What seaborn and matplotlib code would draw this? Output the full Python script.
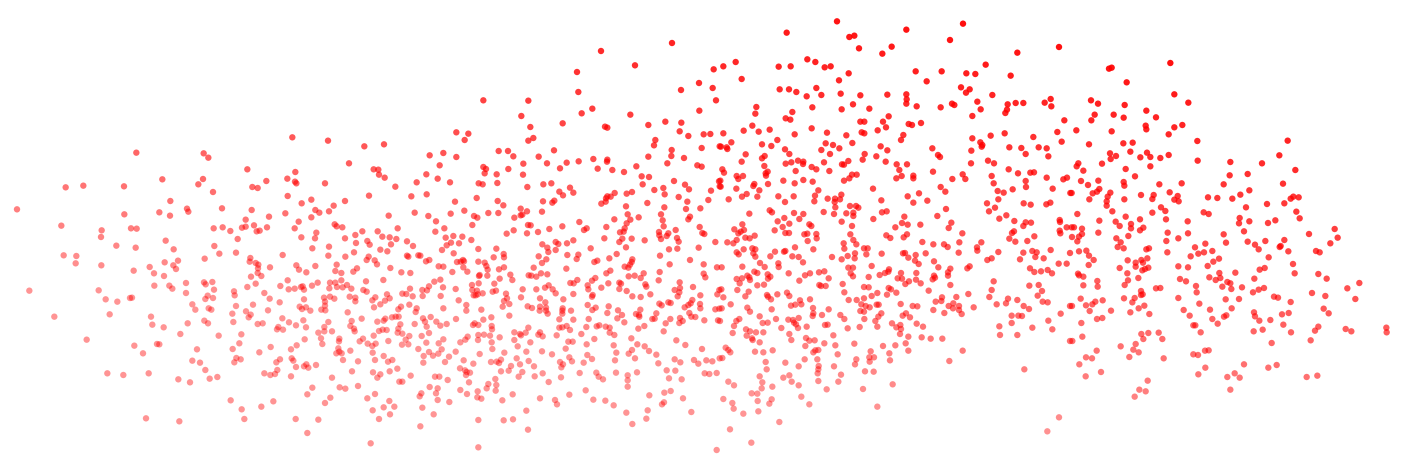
import numpy as np
import pandas as pd
import seaborn as sns
from matplotlib import pyplot as plt

# points, one list per patch, in units of 1/3 px from the patch corner
left_pts = [(877,52),(984,62),(409,98),(611,100),(625,113),(1047,130),(742,148),(886,156),(862,176),(487,178),(609,177),(799,183),(885,185),(889,190),(975,190),(197,202),(250,197),(372,199),(595,193),(757,201),(773,204),(639,216),(863,228),(934,239),(1035,243),(905,250),(511,243),(1001,257),(51,268),(561,266),(565,275),(666,265),(755,270),(946,270),(958,278),(987,274),(478,277),(373,283),(510,287),(856,280),(807,290),(934,292),(737,299),(896,305),(184,317),(305,331),(393,325),(410,326),(641,325),(668,322),(691,333),(726,323),(737,320),(762,316),(770,334),(779,332),(801,322),(884,325),(1004,313),(1010,319),(1027,322),(949,338),(1066,345),(303,351),(497,362),(713,357),(904,352),(945,355),(1035,355),(1068,369),(349,377),(407,383),(521,388),(643,378),(937,385),(987,380),(191,406),(229,408),(658,401),(708,398),(848,405),(985,407),(1062,397),(1036,410),(614,416),(751,414),(749,425),(534,422),(494,427),(304,436),(227,430),(520,436),(528,447),(449,441),(767,429),(775,434),(774,445),(810,442),(889,436),(897,449),(946,438),(1010,434),(1071,445),(401,452),(462,460),(773,459),(919,457),(1006,453),(1024,459),(1060,455),(492,468),(753,470),(784,468),(863,481),(1024,481),(612,487),(637,486),(617,493),(463,497),(508,497),(558,489),(767,491),(841,498),(953,488),(990,488),(1006,488),(936,497),(903,501),(908,499),(742,501),(517,506),(642,509),(702,514),(884,506),(866,508),(912,509),(988,505),(1011,501),(1028,502),(1041,495),(1054,506),(88,512),(296,511),(558,519),(793,519),(704,526),(623,527),(616,537),(639,534),(972,533),(990,530),(1003,536),(1049,530),(1066,533),(1066,544),(317,538),(390,534),(396,533),(352,545),(809,536),(912,538),(839,547),(975,545),(577,553),(708,558),(759,554),(975,557),(899,560),(906,567),(918,562),(626,565),(634,569),(586,569),(964,569),(976,571),(931,572),(804,571),(738,574),(697,581),(752,584),(746,592),(329,583),(163,590),(453,590),(1043,577),(847,595),(613,602),(700,606),(910,601),(457,614),(624,610),(563,610),(773,612),(788,610),(867,607),(985,606),(1055,603),(888,616),(491,622),(835,621),(831,628),(849,629),(918,622),(973,621),(1051,618),(1062,626),(1064,634),(973,634),(996,634),(955,638),(541,642),(656,647),(724,643),(963,655),(260,659),(914,658),(1018,656),(1017,664),(471,672),(478,673),(718,670),(967,672),(1079,664),(403,677),(812,681),(890,676),(698,687),(591,688),(873,688),(1015,685),(778,697),(1018,695),(1025,700),(1051,692),(1009,700),(429,700),(709,714),(722,718),(840,718),(875,715),(880,722),(1029,720),(1074,724),(577,722),(600,728),(703,727),(829,727),(919,733),(948,735),(912,739),(925,743),(888,741),(616,750),(832,750),(1056,754),(446,760),(322,760),(370,765),(793,760),(811,765),(825,762),(873,769),(652,771),(629,776),(535,778),(570,787),(996,773),(1019,802),(1036,806),(1074,798),(937,803),(922,823),(991,833),(692,841),(820,844),(975,849),(784,860),(725,868),(438,895),(538,904),(733,897),(887,897),(955,899),(922,939)]

mid_pts = [(723,-27),(936,-51),(825,16),(1061,28),(651,36),(1017,69),(655,96),(1058,84),(963,90),(370,121),(505,122),(1068,121),(1018,152),(697,146),(665,160),(811,164),(484,168),(608,190),(865,195),(916,185),(964,188),(511,201),(735,200),(742,203),(289,217),(325,221),(959,214),(985,228),(1031,223),(1051,222),(314,240),(505,242),(520,234),(886,240),(882,256),(13,259),(72,253),(1025,264),(935,270),(416,273),(444,273),(250,279),(582,271),(1079,259),(209,286),(289,291),(460,289),(536,290),(865,290),(934,288),(972,294),(700,297),(742,299),(741,305),(561,310),(490,311),(620,308),(656,304),(922,310),(239,316),(829,319),(1012,316),(1025,320),(41,328),(55,329),(370,321),(378,327),(445,327),(600,325),(713,326),(757,330),(792,336),(374,340),(57,344),(199,343),(410,343),(489,344),(845,349),(867,351),(74,353),(233,356),(270,367),(170,367),(356,370),(368,373),(412,369),(550,373),(574,370),(848,373),(942,363),(975,374),(1077,364),(106,380),(502,381),(630,383),(883,390),(910,384),(987,388),(1053,392),(598,395),(640,398),(609,406),(764,399),(800,401),(816,396),(914,403),(1079,379),(27,407),(154,409),(200,403),(350,414),(752,410),(742,409),(738,415),(956,411),(1045,420),(285,425),(413,423),(549,424),(583,422),(577,428),(724,431),(737,425),(862,429),(982,425),(430,436),(798,439),(913,442),(978,447),(1021,445),(482,446),(313,452),(501,454),(546,455),(164,458),(272,461),(385,459),(415,459),(487,464),(903,463),(86,467),(205,468),(342,468),(352,473),(463,473),(482,466),(803,463),(836,472),(990,470),(985,478),(811,479),(763,478),(228,484),(658,486),(908,481),(337,495),(504,495),(512,496),(911,499),(800,490),(607,499),(739,501),(1019,501),(113,505),(253,505),(461,511),(568,507),(794,505),(947,510),(672,510),(680,505),(7,514),(53,514),(226,515),(440,521),(501,520),(534,516),(780,517),(791,515),(897,516),(925,520),(1027,519),(1033,522),(67,530),(89,532),(257,533),(280,528),(307,530),(898,526),(920,528),(903,537),(951,534),(109,537),(733,535),(787,536),(815,536),(854,541),(334,540),(141,544),(22,543),(273,548),(297,550),(621,550),(640,541),(587,546),(595,552),(547,553),(956,545),(1066,546),(29,554),(93,553),(159,558),(260,556),(562,563),(692,565),(798,562),(1016,563),(61,569),(355,567),(409,566),(246,570),(82,574),(565,576),(587,570),(927,568),(952,566),(778,546),(281,580),(431,582),(432,592),(622,585),(655,584),(770,582),(900,587),(26,590),(141,587),(145,590),(175,586),(181,587),(401,592),(536,589),(650,597),(748,595),(20,600),(44,601),(198,604),(208,600),(302,605),(309,600),(312,604),(291,606),(355,605),(559,598),(546,609),(703,606),(712,602),(817,598),(815,606),(990,600),(51,613),(236,619),(250,620),(374,608),(379,618),(929,613),(1031,613),(1071,622),(810,614),(794,620),(805,623),(91,624),(310,622),(383,629),(417,628),(432,622),(521,623),(619,626),(124,637),(151,639),(277,636),(322,635),(751,632),(739,640),(543,640),(562,643),(851,640),(899,636),(1031,641),(382,647),(357,648),(359,645),(451,644),(506,646),(514,647),(529,650),(806,649),(824,647),(842,654),(1036,652),(70,660),(18,664),(457,660),(896,661),(241,659),(223,665),(419,656),(652,660),(631,669),(641,670),(706,654),(696,662),(745,670),(683,676),(778,668),(783,671),(856,673),(959,667),(356,670),(403,671),(566,676),(555,683),(336,675),(249,682),(207,679),(859,680),(724,683),(999,681),(287,687),(488,688),(529,688),(578,688),(685,688),(778,687),(944,690),(960,684),(10,690),(20,695),(187,690),(150,686),(201,691),(337,690),(351,692),(398,695),(408,692),(587,700),(698,705),(800,693),(958,697),(1078,690),(81,703),(127,701),(139,702),(158,709),(188,708),(242,708),(341,706),(347,706),(353,703),(368,700),(438,701),(483,712),(640,702),(871,703),(817,709),(842,711),(953,709),(1021,706),(1072,703),(46,712),(37,721),(89,715),(75,722),(296,721),(441,715),(432,723),(540,715),(696,710),(610,718),(898,731),(925,727),(932,729),(997,720),(1020,732),(61,733),(148,734),(319,735),(448,732),(556,727),(683,735),(905,736),(985,735),(992,730),(42,742),(123,740),(115,748),(170,745),(250,745),(319,752),(428,740),(503,739),(516,744),(540,740),(558,743),(707,743),(746,739),(974,742),(1021,745),(364,749),(167,756),(539,752),(608,745),(607,752),(633,752),(697,750),(774,751),(841,749),(1066,748),(1078,746),(988,759),(558,752),(607,761),(563,761),(742,759),(786,765),(828,762),(889,760),(837,765),(838,770),(96,772),(107,770),(116,770),(5,776),(288,777),(394,772),(448,767),(76,776),(189,775),(212,771),(370,779),(598,778),(640,779),(686,777),(772,775),(877,777),(884,776),(931,777),(960,774),(1006,771),(994,770),(1033,781),(1074,781),(52,785),(71,782),(229,785),(164,792),(195,785),(241,797),(260,792),(344,790),(355,795),(121,793),(339,795),(793,787),(917,790),(958,789),(968,783),(395,798),(200,800),(607,802),(620,798),(679,801),(710,799),(718,796),(737,800),(749,803),(853,798),(835,806),(505,803),(115,806),(396,808),(57,813),(68,809),(80,810),(598,803),(630,810),(911,814),(207,819),(113,818),(127,821),(463,817),(480,822),(497,818),(540,817),(535,824),(372,824),(664,822),(749,818),(763,825),(148,828),(185,828),(41,827),(355,825),(390,827),(323,830),(419,832),(483,826),(548,829),(590,826),(703,837),(814,835),(9,836),(250,838),(316,839),(354,840),(137,839),(301,847),(395,847),(463,840),(511,847),(625,845),(638,845),(85,843),(199,848),(236,850),(949,841),(23,851),(47,851),(145,853),(126,854),(680,853),(761,856),(832,853),(854,859),(976,855),(37,858),(473,859),(175,867),(245,868),(397,867),(617,866),(867,873),(1026,867),(499,875),(546,874),(769,878),(816,870),(806,881),(38,878),(207,876),(235,881),(287,875),(359,882),(433,878),(576,883),(889,884),(71,888),(191,888),(219,887),(682,885),(628,892),(267,890),(470,895),(825,895),(944,898),(696,897),(45,900),(97,900),(84,905),(190,908),(255,906),(311,901),(393,906),(410,905),(423,899),(506,903),(600,906),(636,904),(765,901),(961,907),(1002,900),(1039,901),(1057,904),(1015,911),(671,908),(609,913),(340,911),(417,909),(480,913),(895,910),(1079,895),(300,925),(112,926),(453,918),(522,919),(604,922),(315,931),(446,932),(423,934),(920,931),(946,932),(39,937),(89,934),(320,936),(330,938),(487,936),(659,939),(709,938),(768,938),(831,937),(1034,940),(1048,942),(1070,939),(61,943),(152,947),(318,945),(548,940),(716,950),(803,946),(52,953),(225,950),(238,950),(476,950),(524,949),(603,952),(927,955),(729,958),(406,957),(263,960),(965,958),(118,965),(127,965),(327,967),(566,966),(803,961),(385,972),(409,975),(803,980),(209,981),(233,985),(380,985),(301,990),(407,992),(677,991),(353,994),(228,1000),(913,998),(932,993),(184,1000),(321,1002),(45,1002),(179,1009),(458,1003),(628,1004),(868,1006),(22,1015),(352,1012),(364,1016),(540,1015),(969,1015),(233,1020),(427,1021),(585,1020),(700,1019),(736,1022),(88,1023),(268,1026),(591,1033),(912,1027),(906,1033),(71,1042),(103,1040),(187,1043),(761,1036),(38,1051),(499,1052),(863,1051),(994,1056),(90,1063),(221,1063),(799,1058),(57,1077),(355,1080),(431,1081),(459,1078),(859,1076),(817,1092),(181,1099),(504,1109),(32,1150),(355,1162),(1070,1170)]

centre_pts = [(351,34),(729,41),(200,68),(559,59),(388,81),(403,77),(690,90),(515,110),(417,115),(1017,111),(487,131),(892,128),(47,156),(10,169),(176,170),(212,169),(262,148),(286,156),(314,172),(332,169),(797,164),(65,207),(386,190),(357,211),(587,184),(665,184),(739,190),(766,192),(872,197),(620,214),(723,232),(179,238),(207,238),(229,246),(289,234),(749,238),(738,248),(260,259),(304,255),(362,251),(421,256),(502,254),(559,253),(817,255),(560,268),(559,281),(772,275),(590,289),(662,292),(696,281),(703,285),(277,292),(399,283),(109,291),(365,298),(448,296),(863,283),(887,279),(910,279),(974,278),(992,267),(994,289),(782,298),(106,311),(217,306),(861,299),(856,309),(757,318),(506,319),(197,325),(211,329),(421,335),(433,335),(489,335),(1033,331),(97,347),(566,342),(576,345),(603,339),(498,352),(275,355),(149,359),(71,362),(116,365),(473,361),(425,367),(433,370),(10,370),(224,373),(321,368),(379,376),(550,375),(1012,366),(854,370),(812,377),(940,381),(172,390),(757,385),(543,390),(34,397),(397,399),(1025,395),(781,397),(126,403),(317,400),(339,405),(154,408),(3,410),(20,412),(22,417),(787,405),(785,410),(868,412),(904,414),(956,412),(980,415),(195,418),(304,420),(358,415),(482,409),(502,421),(637,415),(754,422),(77,433),(208,432),(330,432),(434,432),(469,439),(917,432),(654,435),(660,441),(985,439),(134,438),(126,445),(65,455),(234,452),(250,455),(249,462),(214,457),(197,461),(312,457),(385,453),(428,449),(497,455),(804,452),(822,460),(366,463),(372,464),(530,463),(561,463),(753,460),(133,468),(275,471),(289,478),(866,478),(7,478),(12,488),(227,483),(328,483),(538,480),(639,485),(143,485),(137,490),(138,497),(50,498),(69,498),(55,507),(894,490),(931,488),(942,487),(410,494),(396,494),(388,505),(372,512),(545,498),(580,497),(580,505),(529,505),(728,493),(697,507),(736,507),(815,498),(1,512),(190,512),(250,510),(278,515),(917,513),(980,503),(1030,508),(1041,503),(103,522),(100,528),(144,522),(224,520),(821,520),(2,530),(49,536),(118,541),(459,536),(662,531),(918,531),(998,536),(676,545),(878,538),(833,543),(851,548),(80,552),(295,541),(66,560),(112,560),(175,559),(221,559),(285,557),(364,554),(597,550),(1051,549),(563,559),(26,568),(323,566),(484,571),(345,566),(360,568),(344,576),(195,576),(283,574),(622,572),(580,578),(835,568),(346,592),(801,580),(911,580),(932,584),(979,583),(991,578),(390,588),(408,588),(415,593),(678,597),(149,601),(156,607),(825,593),(88,611),(222,609),(250,612),(311,606),(342,612),(379,610),(400,608),(486,607),(500,604),(807,604),(652,618),(859,616),(553,620),(400,618),(193,624),(238,627),(460,627),(838,626),(173,634),(208,641),(365,635),(883,633),(917,637),(933,638),(546,639),(563,644),(601,644),(694,638),(67,643),(268,643),(274,648),(188,651),(396,648),(910,648),(1019,630),(1020,636),(43,658),(72,660),(62,665),(55,670),(164,661),(526,652),(686,654),(1040,652),(196,669),(207,669),(253,673),(262,671),(289,672),(391,673),(882,664),(876,669),(727,670),(1019,662),(1021,670),(104,677),(89,685),(76,683),(50,690),(290,685),(499,676),(511,684),(551,682),(561,673),(943,679),(868,686),(22,697),(40,700),(263,693),(400,690),(607,696),(886,695),(922,693),(718,697),(640,703),(371,700),(409,703),(672,703),(683,711),(784,697),(97,715),(106,718),(71,718),(225,712),(373,716),(432,715),(443,715),(280,718),(771,712),(772,722),(992,720),(50,727),(56,733),(100,730),(165,725),(192,725),(196,723),(555,729),(549,730),(405,730),(485,731),(587,735),(617,730),(716,728),(835,726),(910,728),(937,723),(950,727),(383,738),(439,733),(106,740),(151,739),(217,739),(236,741),(336,741),(565,743),(404,745),(946,741),(971,745),(365,748),(585,752),(642,754),(802,750),(815,745),(900,748),(249,757),(120,759),(175,760),(596,762),(1016,761),(1040,761),(67,770),(134,771),(176,771),(455,768),(655,772),(385,773),(399,773),(749,769),(742,775),(930,775),(691,776),(5,772),(103,785),(112,789),(206,790),(313,784),(297,787),(270,790),(255,796),(507,778),(505,785),(495,789),(479,795),(543,789),(589,789),(684,787),(684,797),(943,786),(963,784),(983,780),(996,790),(392,790),(399,799),(82,797),(143,793),(151,800),(88,802),(144,806),(326,805),(446,801),(642,797),(645,803),(638,808),(588,809),(533,805),(546,806),(50,807),(66,805),(90,810),(238,812),(567,814),(556,822),(602,820),(59,820),(112,826),(132,824),(298,825),(303,828),(317,828),(368,822),(691,825),(821,814),(928,827),(956,825),(432,831),(446,832),(506,834),(513,838),(626,842),(4,838),(52,840),(86,845),(373,847),(472,849),(529,848),(815,840),(966,843),(201,848),(208,858),(141,855),(172,853),(455,858),(501,854),(953,857),(10,862),(76,859),(153,868),(144,860),(270,868),(432,865),(386,870),(410,870),(666,862),(709,861),(745,852),(808,861),(864,866),(892,870),(968,875),(983,877),(664,873),(647,875),(240,871),(244,883),(226,884),(213,887),(32,883),(424,883),(437,888),(449,892),(470,884),(476,884),(542,882),(578,888),(592,889),(686,888),(700,880),(717,888),(761,892),(830,883),(858,880),(911,888),(1050,888),(5,895),(82,893),(155,898),(279,894),(326,898),(421,903),(432,905),(640,900),(699,895),(717,900),(90,905),(725,912),(673,909),(927,897),(280,910),(278,918),(306,915),(361,915),(484,910),(548,917),(558,910),(570,922),(875,917),(895,917),(906,918),(1022,911),(119,919),(168,927),(236,924),(205,929),(219,930),(373,927),(433,927),(475,920),(466,933),(0,933),(49,933),(58,927),(222,938),(228,943),(590,941),(516,940),(541,945),(128,939),(143,938),(875,939),(985,932),(42,948),(260,950),(315,945),(323,944),(419,951),(472,950),(609,950),(838,949),(184,954),(234,954),(383,955),(529,952),(543,957),(78,958),(90,964),(108,967),(130,967),(997,958),(937,953),(38,969),(80,977),(208,972),(340,976),(540,972),(892,975),(840,975),(96,985),(98,990),(258,984),(268,992),(284,991),(214,990),(565,980),(605,982),(632,986),(667,986),(119,997),(313,1000),(557,1000),(1050,993),(256,1008),(346,1006),(403,1001),(489,1008),(526,1006),(17,1013),(25,1020),(31,1027),(158,1021),(105,1025),(130,1027),(286,1021),(295,1020),(280,1027),(565,1022),(728,1022),(452,1024),(508,1030),(353,1033),(7,1044),(254,1048),(292,1048),(448,1042),(462,1042),(409,1048),(510,1051),(688,1053),(449,1055),(137,1056),(196,1058),(405,1063),(296,1068),(236,1069),(342,1069),(140,1078),(295,1078),(293,1090),(435,1084),(461,1085),(913,1078),(119,1099),(208,1096),(190,1103),(363,1094),(25,1115),(127,1117),(215,1115),(295,1113),(355,1115),(42,1126),(236,1126),(518,1123),(125,1135),(157,1130),(320,1138),(429,1137),(95,1150),(112,1151),(244,1160),(10,1167),(155,1168),(113,1173),(37,1179),(148,1181),(268,1183),(472,1190),(41,1196),(115,1204),(70,1211),(178,1236),(1017,1222),(30,1258),(982,1264),(94,1298)]

right_pts = [(177,86),(185,83),(361,69),(230,127),(373,163),(123,181),(144,191),(415,188),(224,195),(289,212),(191,224),(134,224),(221,233),(318,232),(124,241),(287,257),(397,255),(373,262),(289,268),(79,271),(185,274),(356,283),(442,303),(713,302),(220,310),(248,308),(117,313),(241,335),(180,340),(291,338),(198,348),(271,352),(182,357),(301,351),(331,354),(356,345),(688,346),(443,362),(541,366),(85,370),(156,371),(636,370),(80,379),(301,379),(100,392),(227,387),(736,390),(539,406),(593,402),(255,409),(93,423),(145,422),(221,426),(223,437),(114,435),(328,433),(395,430),(521,433),(699,431),(598,451),(148,447),(141,455),(128,460),(65,459),(181,458),(173,470),(273,465),(359,457),(311,465),(383,468),(474,472),(502,474),(547,476),(571,464),(118,478),(223,478),(307,477),(373,479),(386,484),(730,470),(746,472),(722,476),(170,484),(170,497),(651,492),(703,490),(333,502),(588,502),(187,514),(346,513),(307,518),(461,517),(476,522),(739,515),(82,522),(227,530),(569,534),(749,535),(148,542),(270,538),(348,538),(413,544),(598,544),(567,550),(654,549),(676,541),(197,545),(243,552),(209,558),(243,565),(280,563),(270,571),(65,562),(72,562),(96,566),(854,567),(582,574),(353,578),(414,580),(145,578),(96,582),(777,582),(521,583),(235,588),(66,591),(87,590),(199,595),(385,595),(863,593),(703,600),(646,603),(82,604),(212,607),(349,603),(466,611),(528,608),(593,605),(841,610),(615,614),(203,621),(221,625),(435,622),(692,618),(689,621),(626,628),(289,628),(297,625),(487,633),(109,632),(87,634),(60,639),(715,634),(798,633),(809,637),(352,637),(445,641),(462,637),(117,647),(422,649),(656,652),(507,656),(131,660),(233,661),(292,655),(274,660),(257,668),(279,668),(490,665),(729,672),(116,675),(257,680),(209,684),(295,683),(285,687),(277,691),(385,679),(414,682),(473,678),(629,689),(644,684),(84,701),(87,706),(100,710),(232,700),(508,699),(556,698),(734,700),(805,702),(265,714),(390,717),(478,712),(511,714),(613,716),(830,716),(928,729),(142,723),(234,721),(408,724),(497,720),(532,726),(541,730),(100,736),(143,740),(224,735),(438,738),(517,740),(576,742),(318,745),(331,744),(273,753),(544,747),(626,749),(642,744),(892,745),(273,765),(278,763),(440,757),(609,757),(786,759),(92,776),(158,781),(136,785),(222,775),(254,774),(385,774),(527,778),(567,777),(672,770),(684,773),(826,768),(916,777),(108,796),(127,793),(247,787),(448,791),(722,786),(66,798),(283,797),(266,805),(183,812),(119,813),(241,817),(298,822),(401,810),(480,809),(545,805),(612,817),(615,829),(696,823),(716,819),(821,806),(836,820),(419,827),(141,837),(157,834),(529,826),(522,830),(487,837),(628,842),(661,840),(94,849),(503,851),(430,856),(436,856),(700,854),(805,860),(1009,863),(611,874),(638,869),(795,872),(887,867),(904,874),(1010,877),(274,882),(295,879),(326,878),(97,890),(280,897),(337,897),(452,877),(723,877),(782,901),(67,903),(665,909),(257,912),(212,919),(250,929),(266,937),(140,932),(465,932),(476,931),(430,943),(444,945),(238,951),(108,952),(126,955),(341,955),(88,973),(582,973),(680,975),(466,983),(655,983),(153,996),(554,1000),(445,1003),(107,1009),(532,1011),(569,1013),(770,1011),(802,1007),(293,1022),(268,1049),(287,1054),(541,1049),(254,1070)]

patches = [(left_pts, 0, 120), (mid_pts, 360, 60), (centre_pts, 720, 10), (right_pts, 1050, 40)]

rows = []
for pts, x0, y0 in patches:
    p = pd.DataFrame(pts, columns=['x', 'y']) / 3
    p['x'] += x0
    p['y'] += y0
    rows.append(p)
data = pd.concat(rows, ignore_index=True)

# points get more solid towards the top right
opacity = np.clip(0.62 + 0.15 * (data['x'] - 700) / 700 + 0.3 * (230 - data['y']) / 230, 0.42, 1)

sns.set_theme(style='white')
fig = plt.figure(figsize=(14.12, 4.68), dpi=100)
ax = fig.add_axes([0, 0, 1, 1])
sns.scatterplot(data=data, x='x', y='y', color='#ff0000', s=21, linewidth=0, alpha=opacity.values, legend=False, ax=ax)
ax.set_xlim(0, 1412)
ax.set_ylim(468, 0)
ax.set_axis_off()
fig.savefig('out.png', dpi=100)
